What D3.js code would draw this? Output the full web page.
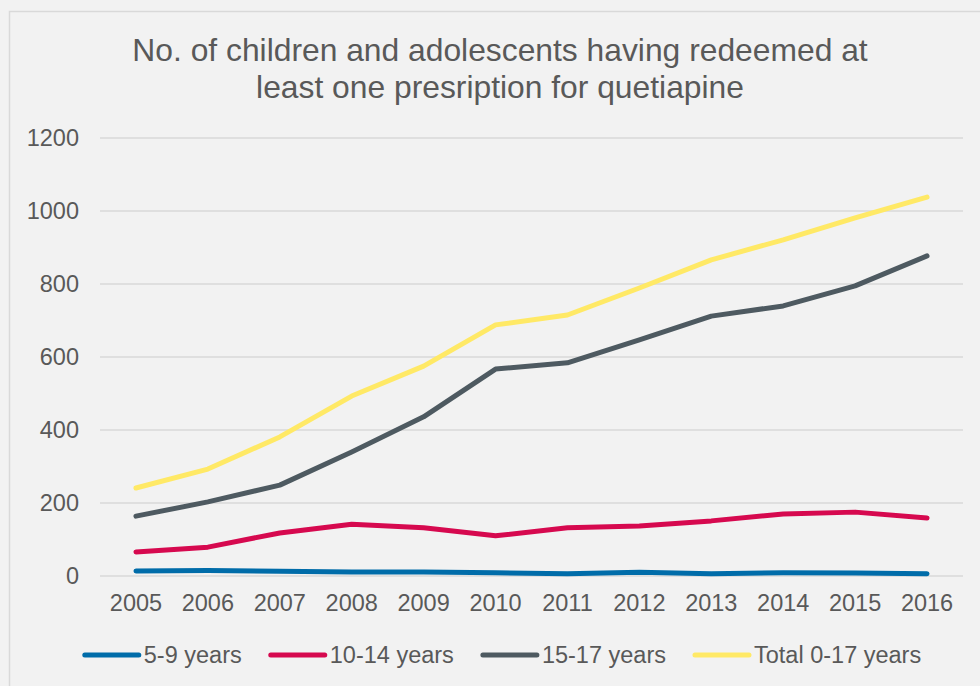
<!DOCTYPE html>
<html><head><meta charset="utf-8">
<script src="https://cdn.jsdelivr.net/npm/d3@7"></script>
<style>
html,body{margin:0;padding:0;background:#f2f2f2;}
svg{display:block;font-family:"Liberation Sans",Arial,sans-serif;}
svg text{font-family:"Liberation Sans",Arial,sans-serif;}
</style></head>
<body><svg id="chart" width="980" height="686"></svg>
<script>
const years = ["2005","2006","2007","2008","2009","2010","2011","2012","2013","2014","2015","2016"];
const age5to9 = [14,15,13,11,11,9,6,10,6,9,8,6];
const age10to14 = [66,79,118,142,132,110,132,137,151,170,175,159];
const age15to17 = [164,203,249,340,436,567,584,647,712,740,795,877];
const total0to17 = [241,293,381,493,575,688,715,789,866,921,981,1038];
const seriesNames = ["5-9 years","10-14 years","15-17 years","Total 0-17 years"];
const seriesColors = ["#006ca9","#d6094f","#4e5a61","#ffe966"];
const yTicks = [0,200,400,600,800,1000,1200];
const titleLines = ["No. of children and adolescents having redeemed at","least one presription for quetiapine"];

const seriesValues = [age5to9, age10to14, age15to17, total0to17];
const svg = d3.select("#chart");
const textColor = "#595959";
const fontSize = 23.5;

svg.append("rect").attr("x",9.5).attr("y",11.5).attr("width",990).attr("height",690)
  .attr("fill","#f2f2f2").attr("stroke","#d9d9d9").attr("stroke-width",1.5);

const m = {left:100, right:963, top:138, bottom:576};
const x = d3.scaleBand().domain(years).range([m.left, m.right]);
const y = d3.scaleLinear().domain([0,1200]).range([m.bottom, m.top]);

// title
svg.append("text").attr("x",500).attr("y",61).attr("text-anchor","middle")
  .attr("font-size",31.8).attr("fill",textColor)
  .selectAll("tspan").data(titleLines).join("tspan")
  .attr("x",500).attr("dy",(d,i)=> i===0?0:36.5).text(d=>d);

// gridlines
svg.append("g").selectAll("line").data(yTicks).join("line")
  .attr("x1",m.left).attr("x2",m.right)
  .attr("y1",d=>y(d)).attr("y2",d=>y(d))
  .attr("stroke","#d9d9d9").attr("stroke-width",1.5);

// y axis
const yAxis = svg.append("g").attr("transform",`translate(${m.left-21},0)`)
  .call(d3.axisLeft(y).tickValues(yTicks).tickFormat(d3.format("d")).tickSize(0).tickPadding(0));
yAxis.select(".domain").remove();
yAxis.attr("font-family",null);
yAxis.selectAll("text").attr("font-size",fontSize).attr("fill",textColor);

// x axis
const xAxis = svg.append("g").attr("transform",`translate(0,${m.bottom})`)
  .call(d3.axisBottom(x).tickSize(0).tickPadding(18));
xAxis.select(".domain").remove();
xAxis.attr("font-family",null);
xAxis.selectAll("text").attr("font-size",fontSize).attr("fill",textColor);

// lines
const line = d3.line().x((d,i)=>x(years[i])+x.bandwidth()/2).y(d=>y(d));
svg.append("g").selectAll("path").data(seriesValues).join("path")
  .attr("d",line).attr("fill","none")
  .attr("stroke",(d,i)=>seriesColors[i]).attr("stroke-width",5)
  .attr("stroke-linecap","round").attr("stroke-linejoin","round");

// legend
const lg = svg.append("g");
const items = lg.selectAll("g").data(seriesNames).join("g");
items.append("line").attr("x1",0).attr("x2",54).attr("y1",0).attr("y2",0)
  .attr("stroke",(d,i)=>seriesColors[i]).attr("stroke-width",5).attr("stroke-linecap","round");
items.append("text").attr("x",59).attr("y",8).attr("font-size",fontSize).attr("fill",textColor).text(d=>d);
let cx = 0;
items.each(function(){
  const w = this.getBBox().width;
  d3.select(this).attr("transform",`translate(${cx},655)`);
  cx += w + 29;
});
const totalW = cx - 29;
lg.attr("transform",`translate(${503 - totalW/2},0)`);
</script></body></html>
